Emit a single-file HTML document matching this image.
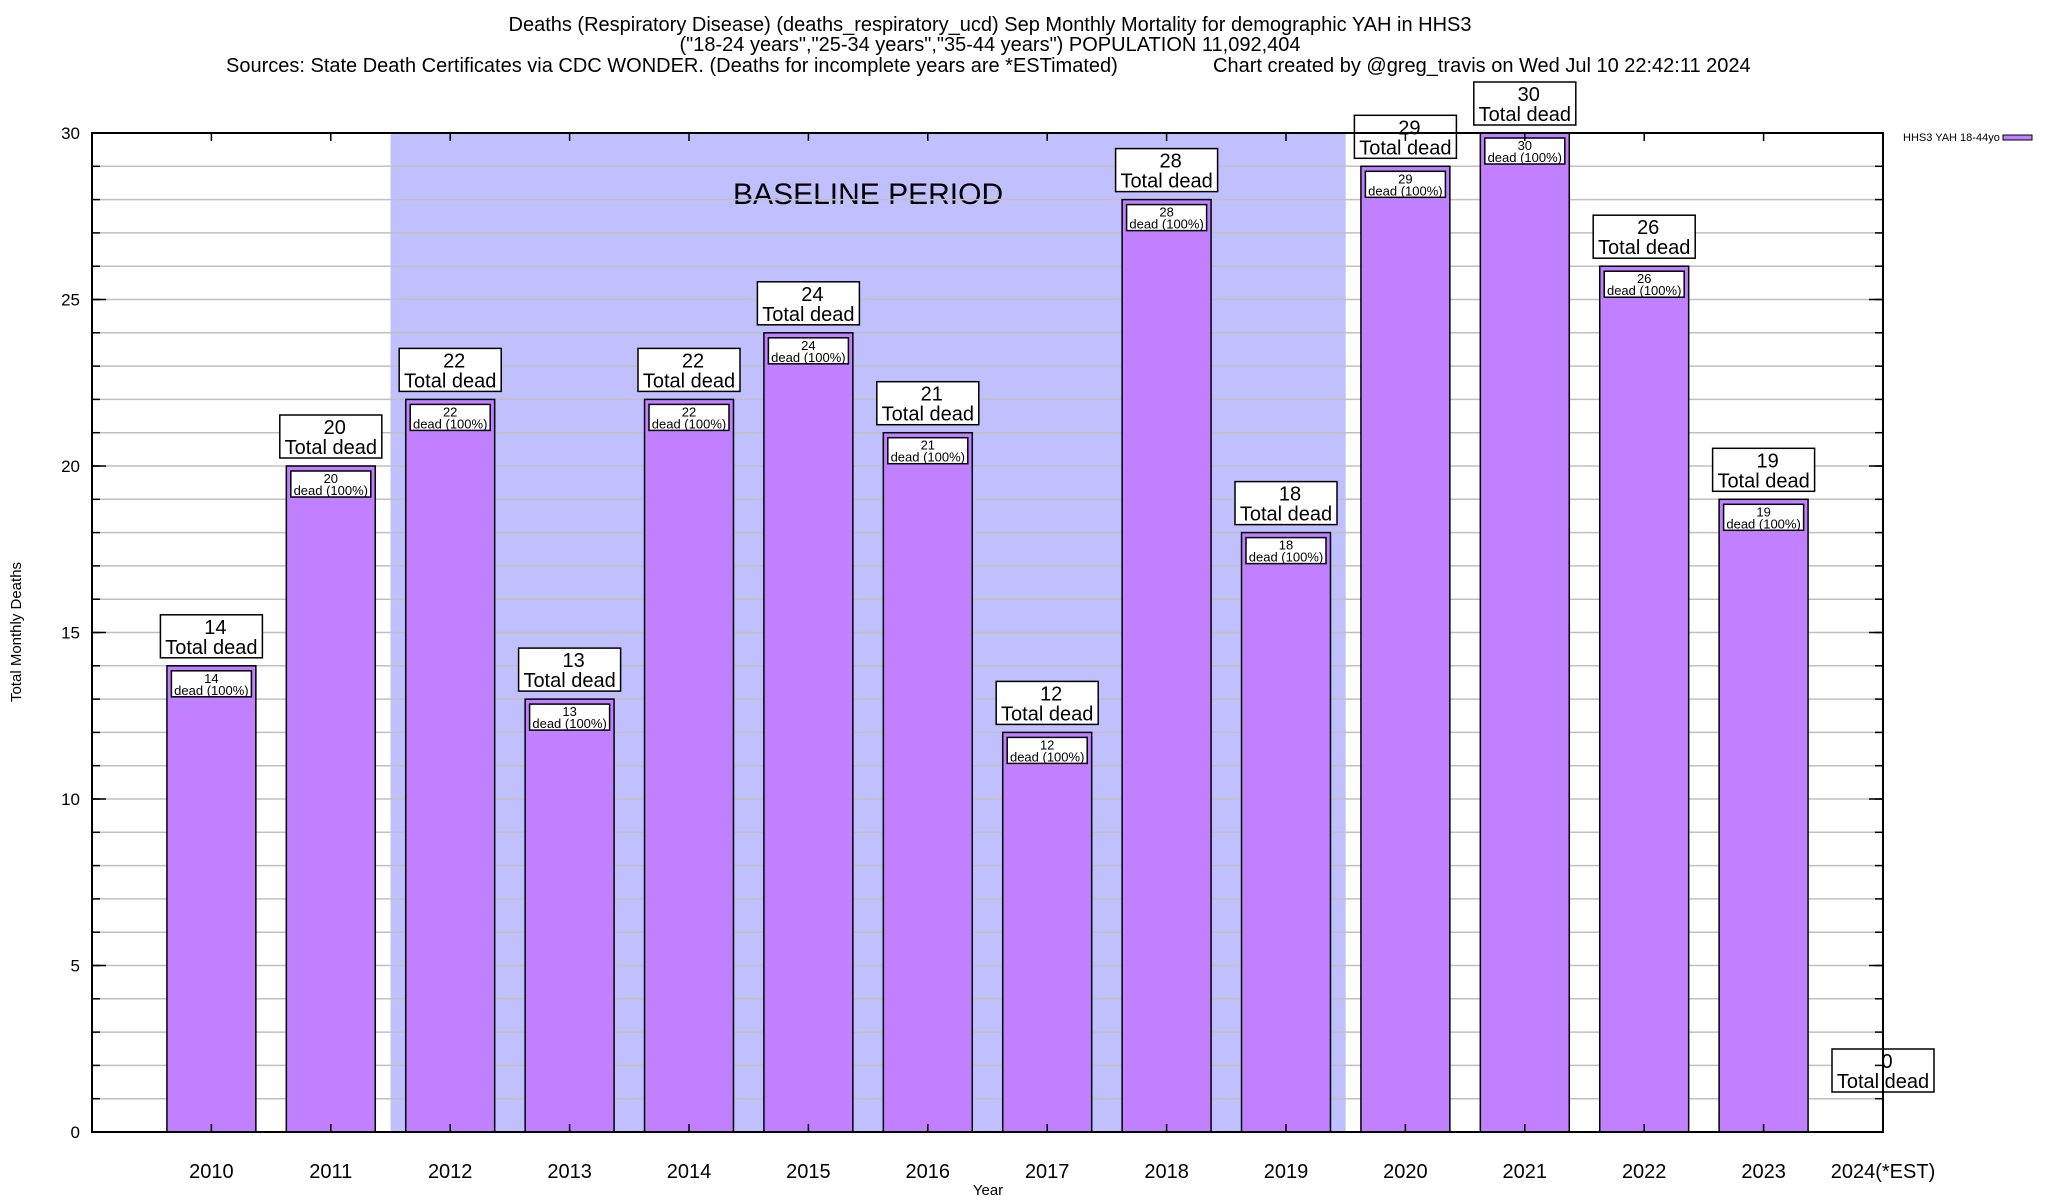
<!DOCTYPE html>
<html><head><meta charset="utf-8"><style>
body{margin:0;background:#fff;}
svg{display:block;font-family:"Liberation Sans",Arial,sans-serif;}
</style></head><body>
<svg id="chart" width="2048" height="1200" viewBox="0 0 2048 1200">
<g font-size="20" fill="#000">
<text x="990" y="31" text-anchor="middle">Deaths (Respiratory Disease) (deaths_respiratory_ucd) Sep Monthly Mortality for demographic YAH in HHS3</text>
<text x="990" y="51" text-anchor="middle">("18-24 years","25-34 years","35-44 years") POPULATION 11,092,404</text>
<text x="226" y="72">Sources: State Death Certificates via CDC WONDER. (Deaths for incomplete years are *ESTimated)</text>
<text x="1213" y="72">Chart created by @greg_travis on Wed Jul 10 22:42:11 2024</text>
</g>
<g id="band"></g><g id="grid"></g><g id="bars"></g><g id="labels"></g><g id="axes"></g>
<text transform="translate(21,632) rotate(-90)" font-size="15" text-anchor="middle">Total Monthly Deaths</text>
<text x="988" y="1195" font-size="15" text-anchor="middle">Year</text>
<g>
<text x="1903" y="141" font-size="11">HHS3 YAH 18-44yo</text>
<rect x="2003" y="135" width="29" height="5" fill="#c080ff" stroke="#000" stroke-width="1"/>
</g>
</svg>
<script>
const categories=["2010","2011","2012","2013","2014","2015","2016","2017","2018","2019","2020","2021","2022","2023","2024(*EST)"];
const values=[14,20,22,13,22,24,21,12,28,18,29,30,26,19,0];
const yTicks=[0,5,10,15,20,25,30];
const baselineRange=[2,9];
const NS="http://www.w3.org/2000/svg";
const L=92,R=1883,T=133,B=1132,YMAX=30;
const slot=(R-L)/15;
function xs(i){return L+(i+1)*slot;}
function ys(v){return B-(v/YMAX)*(B-T);}
function mk(tag,attrs,parent,txt){const e=document.createElementNS(NS,tag);for(const k in attrs)e.setAttribute(k,attrs[k]);if(txt!==undefined)e.textContent=txt;parent.appendChild(e);return e;}
const band=document.getElementById('band'),grid=document.getElementById('grid'),bars=document.getElementById('bars'),labels=document.getElementById('labels'),axes=document.getElementById('axes');
const bx0=xs(baselineRange[0]-0.5),bx1=xs(baselineRange[1]+0.5);
const bandRect=mk('rect',{x:bx0,y:T,width:bx1-bx0,height:B-T,fill:'#c0c0ff'},band);


const bt=mk('text',{x:(bx0+bx1)/2,y:204,'font-size':30,'text-anchor':'middle'},band,'BASELINE PERIOD');


for(let v=1;v<YMAX;v++){
  const gl=mk('line',{x1:L,x2:R,y1:ys(v),y2:ys(v),stroke:'#c0c0c0','stroke-width':1.5},grid);
  
  
  mk('line',{x1:L,x2:L+8,y1:ys(v),y2:ys(v),stroke:'#000','stroke-width':1.5},axes);
  mk('line',{x1:R-8,x2:R,y1:ys(v),y2:ys(v),stroke:'#000','stroke-width':1.5},axes);
}
const bw=slot*0.745;
values.forEach((v,i)=>{
  const cx=xs(i);
  if(v>0){
    const r=mk('rect',{x:cx-bw/2,y:ys(v),width:bw,height:B-ys(v),fill:'#c080ff',stroke:'#000','stroke-width':1.5},bars);
    
    
    const g=mk('g',{},labels);
    
    
    const iy=ys(v)+5;
    mk('rect',{x:cx-40,y:iy,width:80,height:26,fill:'#fff',stroke:'#000','stroke-width':1.5},g);
    mk('text',{x:cx,y:iy+12,'font-size':13,'text-anchor':'middle'},g,String(v));
    mk('text',{x:cx,y:iy+24,'font-size':13,'text-anchor':'middle'},g,'dead (100%)');
  }
  const ob=v>0?ys(v)-8:B-40;
  const og=mk('g',{},labels);
  
  
  mk('rect',{x:cx-51,y:ob-43,width:102,height:43,fill:'#fff',stroke:'#000','stroke-width':1.5},og);
  mk('text',{x:cx+4,y:ob-24,'font-size':20,'text-anchor':'middle'},og,String(v));
  mk('text',{x:cx,y:ob-4,'font-size':20,'text-anchor':'middle'},og,'Total dead');
  const xl=mk('text',{x:cx,y:1178,'font-size':20,'text-anchor':'middle'},axes,categories[i]);
  
  
  mk('line',{x1:cx,x2:cx,y1:T,y2:T+8,stroke:'#000','stroke-width':1.5},axes);
  mk('line',{x1:cx,x2:cx,y1:B-8,y2:B,stroke:'#000','stroke-width':1.5},axes);
});
yTicks.forEach(t=>{
  const tl=mk('text',{x:80,y:ys(t)+6,'font-size':17,'text-anchor':'end'},axes,String(t));
  
  
  mk('line',{x1:L,x2:L+14,y1:ys(t),y2:ys(t),stroke:'#000','stroke-width':1.5},axes);
  mk('line',{x1:R-14,x2:R,y1:ys(t),y2:ys(t),stroke:'#000','stroke-width':1.5},axes);
});
const fr=mk('rect',{x:L,y:T,width:R-L,height:B-T,fill:'none',stroke:'#000','stroke-width':2},axes);


</script>
</body></html>
